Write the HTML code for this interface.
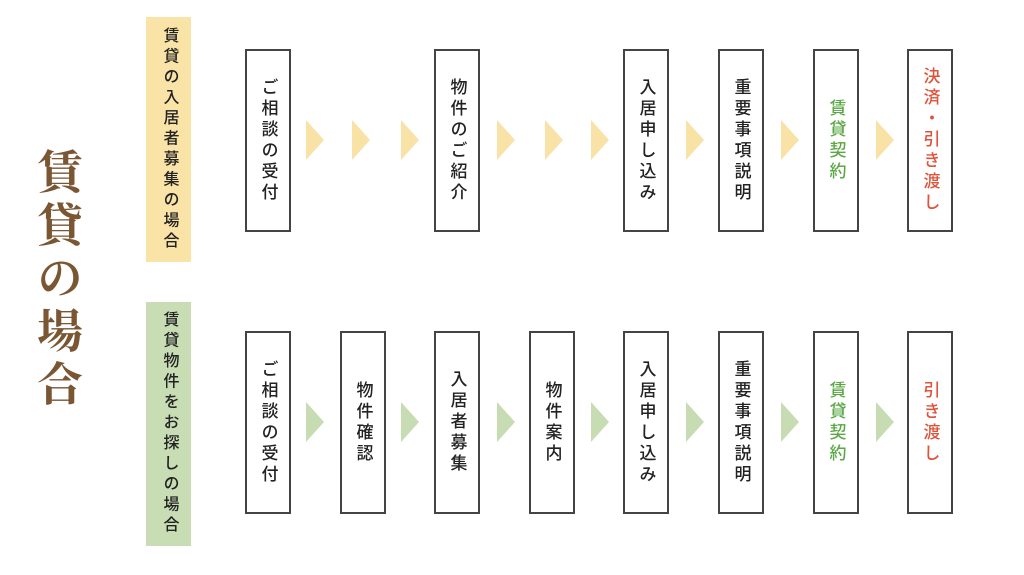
<!DOCTYPE html>
<html><head><meta charset="utf-8"><style>
body{margin:0;width:1024px;height:575px;background:#fff;position:relative;overflow:hidden;font-family:"Liberation Sans","Noto Sans CJK JP",sans-serif;}
.a{position:absolute}
.v{writing-mode:vertical-rl;text-orientation:upright;}
.box{position:absolute;width:46px;border:2px solid #444;background:#fff;display:flex;align-items:center;justify-content:center;box-sizing:border-box;}
.box span{writing-mode:vertical-rl;text-orientation:upright;font-size:17px;font-weight:500;color:#222;letter-spacing:4px;}
.r1{top:49px;height:183px}
.r2{top:331px;height:183px}
.lab{position:absolute;left:146px;width:45px;display:flex;align-items:center;justify-content:center;}
.lab span{writing-mode:vertical-rl;text-orientation:upright;font-size:16px;font-weight:500;color:#222;letter-spacing:4.5px;}
.tri{position:absolute;width:0;height:0;border-top:20px solid transparent;border-bottom:20px solid transparent;border-left:18px solid;}
.y{border-left-color:#f9e2a5}
.g{border-left-color:#c8dcb3}
</style></head><body>
<div class="a v" style="left:34px;top:148px;font-family:'Noto Serif CJK SC',serif;font-size:46px;font-weight:bold;color:#7a5632;letter-spacing:7px;line-height:52px;">賃貸の場合</div>
<div class="lab" style="top:17px;height:245px;background:#f9e3a7"><span>賃貸の入居者募集の場合</span></div>
<div class="lab" style="top:302px;height:244px;background:#c9ddb5"><span>賃貸物件をお探しの場合</span></div>

<div class="box r1" style="left:245px"><span>ご相談の受付</span></div>
<div class="box r1" style="left:434px"><span>物件のご紹介</span></div>
<div class="box r1" style="left:623px"><span>入居申し込み</span></div>
<div class="box r1" style="left:718px"><span>重要事項説明</span></div>
<div class="box r1" style="left:813px"><span style="color:#5aa744">賃貸契約</span></div>
<div class="box r1" style="left:907px"><span style="color:#e0533a">決済・引き渡し</span></div>

<div class="tri y" style="left:306px;top:120px"></div>
<div class="tri y" style="left:352px;top:120px"></div>
<div class="tri y" style="left:401px;top:120px"></div>
<div class="tri y" style="left:497px;top:120px"></div>
<div class="tri y" style="left:545px;top:120px"></div>
<div class="tri y" style="left:591px;top:120px"></div>
<div class="tri y" style="left:686px;top:120px"></div>
<div class="tri y" style="left:781px;top:120px"></div>
<div class="tri y" style="left:876px;top:120px"></div>

<div class="box r2" style="left:245px"><span>ご相談の受付</span></div>
<div class="box r2" style="left:340px"><span>物件確認</span></div>
<div class="box r2" style="left:434px"><span>入居者募集</span></div>
<div class="box r2" style="left:529px"><span>物件案内</span></div>
<div class="box r2" style="left:623px"><span>入居申し込み</span></div>
<div class="box r2" style="left:718px"><span>重要事項説明</span></div>
<div class="box r2" style="left:813px"><span style="color:#5aa744">賃貸契約</span></div>
<div class="box r2" style="left:907px"><span style="color:#e0533a">引き渡し</span></div>

<div class="tri g" style="left:306px;top:402px"></div>
<div class="tri g" style="left:401px;top:402px"></div>
<div class="tri g" style="left:497px;top:402px"></div>
<div class="tri g" style="left:591px;top:402px"></div>
<div class="tri g" style="left:686px;top:402px"></div>
<div class="tri g" style="left:781px;top:402px"></div>
<div class="tri g" style="left:876px;top:402px"></div>
</body></html>
